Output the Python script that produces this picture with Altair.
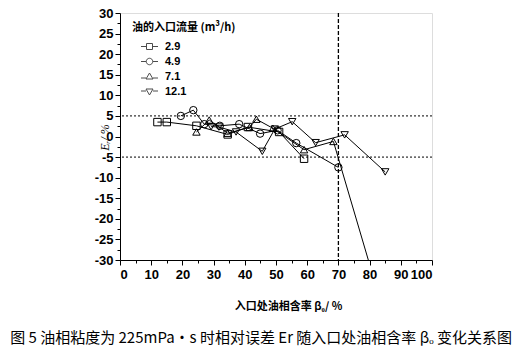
import altair as alt
import pandas as pd

series_names = ["2.9", "4.9", "7.1", "12.1"]
x_29 = [12, 15, 24.5, 34.5, 41, 51, 59]
y_29 = [3.5, 3.5, 2.6, 0.5, 2.3, 1.1, -5.4]
x_49 = [19.5, 23.5, 27, 32, 38.2, 44.9, 50.5, 56.5, 70]
y_49 = [5.0, 6.4, 3.0, 2.6, 3.0, 0.7, 1.5, -1.6, -7.5]
x_71 = [24.5, 28.6, 34.5, 41.5, 43.7, 49, 59, 68.4, 82]
y_71 = [1.1, 4.0, 0.8, 2.2, 4.2, 2.0, -3.2, -1.2, -36.2]
x_121 = [29.2, 31.7, 37.2, 45.6, 49.6, 55.2, 62.7, 72, 85]
y_121 = [2.4, 2.3, 1.1, -3.6, 1.8, 3.6, -1.5, 0.4, -8.6]
ref_y = [5, -5]
ref_x = [70]
x_ticks = list(range(0, 101, 5))
y_ticks = [v / 2 for v in range(-60, 61, 5)]

rows = []
for name, xs, ys in zip(series_names, [x_29, x_49, x_71, x_121], [y_29, y_49, y_71, y_121]):
    for xv, yv in zip(xs, ys):
        rows.append({"x": xv, "y": yv, "series": name})
df = pd.DataFrame(rows)

shapes = ["square", "circle", "triangle-up", "triangle-down"]
legend_paths = [
    "M-1.7,0H-0.6M0.6,0H1.7M-0.6,-0.6H0.6V0.6H-0.6Z",
    "M-1.7,0H-0.65M0.65,0H1.7M-0.65,0A0.65,0.65 0 1,0 0.65,0A0.65,0.65 0 1,0 -0.65,0",
    "M-1.7,0.3H-0.7M0.7,0.3H1.7M-0.7,0.5L0,-0.7L0.7,0.5Z",
    "M-1.7,-0.1H-0.7M0.7,-0.1H1.7M-0.7,-0.5L0,0.7L0.7,-0.5Z",
]

LAB_FONT = "Liberation Sans"
CJK = "Noto Sans CJK SC"

common_axis = dict(
    grid=False,
    domainColor="black",
    tickColor="black",
    labelColor="black",
    titleColor="black",
    labelFont=LAB_FONT,
    labelFontSize=13,
    labelFontWeight="bold",
    labelOverlap=False,
)

x_enc = alt.X(
    "x:Q",
    scale=alt.Scale(domain=[0, 100], nice=False, zero=False),
    axis=alt.Axis(
        values=x_ticks,
        labelExpr="datum.value % 10 === 0 ? '' + datum.value : ''",
        tickSize={"condition": {"test": "datum.value % 10 === 0", "value": 5}, "value": 3},
        title="入口处油相含率 β₀/ %",
        titleFont=CJK,
        titleFontSize=11,
        titleFontWeight="bold",
        titleX=168,
        titleY=49,
        titleBaseline="alphabetic",
        titleAlign="center",
        labelPadding=3,
        **common_axis,
    ),
)
y_enc = alt.Y(
    "y:Q",
    scale=alt.Scale(domain=[-30, 30], nice=False, zero=False),
    axis=alt.Axis(
        values=y_ticks,
        labelExpr="datum.value % 5 === 0 ? '' + datum.value : ''",
        tickSize={"condition": {"test": "datum.value % 5 === 0", "value": 5}, "value": 3},
        title="Eᵣ/ %",
        titleFont="Liberation Serif",
        titleFontSize=12,
        titleFontStyle="italic",
        titleFontWeight="normal",
        titleAngle=-90,
        titleX=-12,
        titleY=124,
        titleAlign="center",
        titleBaseline="alphabetic",
        labelPadding=2,
        **common_axis,
    ),
)

lines = alt.Chart(df).mark_line(color="black", strokeWidth=1, clip=True).encode(
    x=x_enc, y=y_enc, detail="series:N"
)
points = alt.Chart(df).mark_point(
    filled=False, color="black", size=55, strokeWidth=1, clip=True, opacity=1
).encode(
    x=x_enc,
    y=y_enc,
    shape=alt.Shape("series:N", scale=alt.Scale(domain=series_names, range=shapes), legend=None),
)
legend_layer = alt.Chart(df).transform_filter("datum.x < -1000").mark_point(
    filled=False, color="black", size=100, strokeWidth=1
).encode(
    x=x_enc,
    y=y_enc,
    shape=alt.Shape(
        "series:N",
        scale=alt.Scale(domain=series_names, range=legend_paths),
        legend=alt.Legend(
            title="油的入口流量 (m³/h)",
            titleFont=CJK,
            titleFontSize=11,
            titleFontWeight="bold",
            titleColor="black",
            titlePadding=8,
            labelFont=LAB_FONT,
            labelFontSize=11,
            labelFontWeight="bold",
            labelColor="black",
            orient="none",
            legendX=12,
            legendY=9,
            symbolSize=100,
            symbolOffset=12,
            labelOffset=10,
            symbolStrokeColor="black",
            symbolStrokeWidth=1,
            symbolFillColor="transparent",
            rowPadding=3,
            padding=0,
        ),
    ),
)

hrules = alt.Chart(pd.DataFrame({"y": ref_y})).mark_rule(
    color="black", strokeDash=[2, 2], strokeWidth=1
).encode(y=y_enc)
vrule = alt.Chart(pd.DataFrame({"x": ref_x})).mark_rule(
    color="black", strokeDash=[4, 2], strokeWidth=1.3
).encode(x=x_enc)

chart = (
    alt.layer(hrules, vrule, lines, points, legend_layer)
    .resolve_scale(shape="independent")
    .properties(
        width=312,
        height=247,
        autosize=alt.AutoSizeParams(type="none"),
        padding={"left": 120, "top": 13, "right": 89, "bottom": 94},
        title=alt.TitleParams(
            text="图 5 油相粘度为 225mPa·s 时相对误差 Er 随入口处油相含率 βₒ 变化关系图",
            orient="bottom",
            anchor="middle",
            dx=-15,
            offset=20,
            fontSize=15,
            font=CJK,
            fontWeight="normal",
            color="black",
        ),
    )
    .configure_view(stroke="black", strokeWidth=1)
    .configure(background="white")
)

chart.save("out.html", embed_options={"renderer": "svg", "actions": False})
